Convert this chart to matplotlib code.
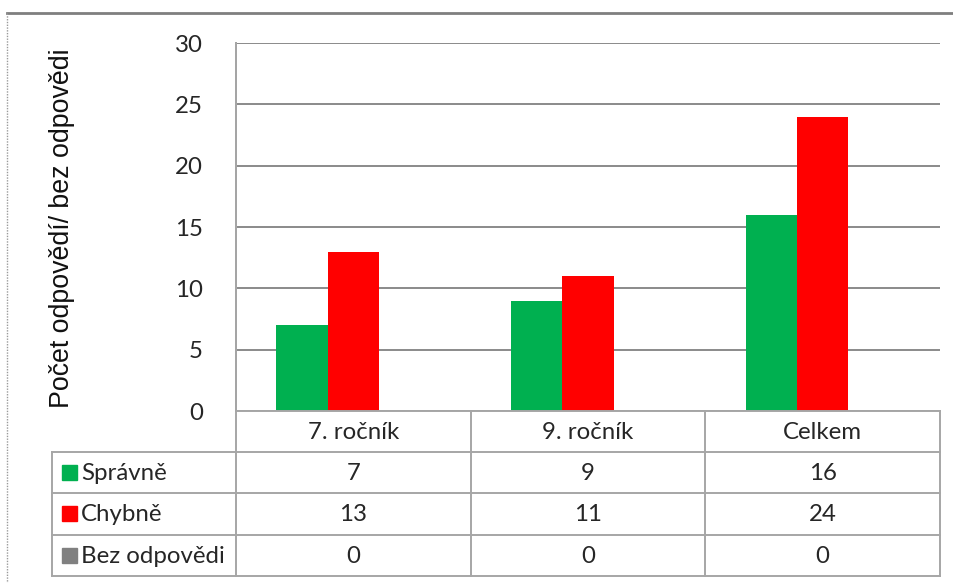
import matplotlib
matplotlib.use("Agg")
import matplotlib.pyplot as plt
import numpy as np

# data
categories = ["7. ročník", "9. ročník", "Celkem"]
series_names = ["Správně", "Chybně", "Bez odpovědi"]
spravne = [7, 9, 16]
chybne = [13, 11, 24]
bez_odpovedi = [0, 0, 0]
series_colors = ["#00B050", "#FF0000", "#808080"]
y_ticks = [0, 5, 10, 15, 20, 25, 30]
y_label = "Počet odpovědí/ bez odpovědi"

W, H = 954, 583
fig = plt.figure(figsize=(W / 100, H / 100), dpi=100)


def fx(x):
    return x / W


def fy(y):
    return 1 - y / H


FONT = "Lato"
FS = 17.3
GRID = "#8a8a8a"
TAB = "#a6a6a6"
TXT = "#262626"

# plot area
left, right, top, bottom = 236, 940, 43, 411
ax = fig.add_axes([fx(left), fy(bottom), fx(right - left), (bottom - top) / H])
ax.set_xlim(-0.5, len(categories) - 0.5)
ax.set_ylim(0, 30)

values = [spravne, chybne, bez_odpovedi]
bw = 0.2186
x = np.arange(len(categories))
for i, (vals, col) in enumerate(zip(values, series_colors)):
    ax.bar(x + (i - 1) * bw, vals, width=bw, color=col, zorder=3, linewidth=0)

ax.set_yticks(y_ticks)
ax.set_yticklabels([str(t) for t in y_ticks], fontname=FONT, fontsize=FS, color=TXT)
ax.tick_params(axis="y", length=0, pad=24)
ax.set_xticks([])
ax.grid(axis="y", color=GRID, linewidth=1.4, zorder=0)
for s in ["top", "right", "bottom"]:
    ax.spines[s].set_visible(False)
ax.spines["left"].set_color(GRID)
ax.spines["left"].set_linewidth(1.4)

fig.text(fx(62), fy(228), y_label, rotation=90, ha="center", va="center",
         fontname="Liberation Sans", fontsize=19.3, color="#111111")

# data table below the plot
col_edges = [236, 470.7, 705.3, 940]
head_top, rows_top = 411, 452
row_h = 41.3
tab_left = 52
tab_bottom = rows_top + row_h * 3


def hline(y, x0, x1):
    fig.add_artist(plt.Line2D([fx(x0), fx(x1)], [fy(y), fy(y)], color=TAB, lw=1.4))


def vline(x0, y0, y1):
    fig.add_artist(plt.Line2D([fx(x0), fx(x0)], [fy(y0), fy(y1)], color=TAB, lw=1.4))


hline(head_top, col_edges[0], col_edges[-1])
for r in range(4):
    hline(rows_top + r * row_h, tab_left, col_edges[-1])
vline(col_edges[0], top, tab_bottom)
for ce in col_edges[1:]:
    vline(ce, head_top, tab_bottom)
vline(tab_left, rows_top, tab_bottom)

for j, cat in enumerate(categories):
    cx = (col_edges[j] + col_edges[j + 1]) / 2
    fig.text(fx(cx), fy((head_top + rows_top) / 2 + 1), cat, ha="center", va="center",
             fontname=FONT, fontsize=FS, color=TXT)

for r, (name, vals, col) in enumerate(zip(series_names, values, series_colors)):
    cy = rows_top + (r + 0.5) * row_h
    fig.add_artist(plt.Rectangle((fx(62), fy(cy + 7.5)), fx(15), 15 / H, color=col))
    fig.text(fx(81), fy(cy + 1), name, ha="left", va="center",
             fontname=FONT, fontsize=FS, color=TXT)
    for j, v in enumerate(vals):
        cx = (col_edges[j] + col_edges[j + 1]) / 2
        fig.text(fx(cx), fy(cy + 1), str(v), ha="center", va="center",
                 fontname=FONT, fontsize=FS, color=TXT)

# chart frame
fig.add_artist(plt.Line2D([fx(7), fx(W)], [fy(13), fy(13)], color="#7f7f7f", lw=2))
fig.add_artist(plt.Line2D([fx(7), fx(7)], [fy(13), fy(H)], color="#9a9a9a", lw=1, ls=(0, (1, 1))))

fig.savefig("out.png", dpi=100)
